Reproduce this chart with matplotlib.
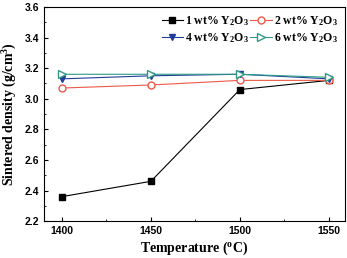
import matplotlib
matplotlib.use("Agg")
import matplotlib.pyplot as plt
from matplotlib.ticker import MultipleLocator

temps = [1400, 1450, 1500, 1550]
y1 = [2.36, 2.46, 3.06, 3.12]
y2 = [3.07, 3.09, 3.12, 3.12]
y4 = [3.13, 3.15, 3.16, 3.13]
y6 = [3.16, 3.16, 3.16, 3.14]

plt.rcParams['mathtext.fontset'] = 'custom'
plt.rcParams['mathtext.rm'] = 'Liberation Serif:bold'
plt.rcParams['mathtext.it'] = 'Liberation Serif:bold'

fig = plt.figure(figsize=(3.47, 2.58), dpi=100)
ax = fig.add_axes([0.127, 0.143, 0.867, 0.830])

l1, = ax.plot(temps, y1, color='black', marker='s', ms=5, lw=0.8, label='1 wt% Y$_2$O$_3$')
l2, = ax.plot(temps, y2, color='#ec5a48', marker='o', ms=5, mfc='white', lw=0.8, label='2 wt% Y$_2$O$_3$')
l4, = ax.plot(temps, y4, color='#1f3f9a', marker='v', ms=5, lw=0.8, label='4 wt% Y$_2$O$_3$')
l6, = ax.plot(temps, y6, color='#2f9a88', marker='>', ms=6, mfc='white', lw=0.8, label='6 wt% Y$_2$O$_3$')

ax.set_xlim(1390, 1559)
ax.set_ylim(2.2, 3.6)
ax.xaxis.set_major_locator(MultipleLocator(50))
ax.xaxis.set_minor_locator(MultipleLocator(25))
ax.yaxis.set_major_locator(MultipleLocator(0.2))
ax.yaxis.set_minor_locator(MultipleLocator(0.1))
ax.tick_params(which='both', direction='in', labelsize=7.5)
ax.tick_params(which='major', length=3)
ax.tick_params(which='minor', length=1.5)
for lab in ax.get_xticklabels() + ax.get_yticklabels():
    lab.set_fontweight('bold')
    lab.set_family('Liberation Sans')

serif = {'family': 'Liberation Serif', 'weight': 'bold', 'size': 10}
ax.set_xlabel('Temperature ($^\\mathregular{o}$C)', fontdict=serif, labelpad=2.5)
ax.set_ylabel('Sintered density (g/cm$^\\mathregular{3}$)', fontdict=serif, labelpad=4)

leg = ax.legend(handles=[l1, l4, l2, l6], loc='upper right', ncol=2, frameon=False,
                handlelength=1.8, columnspacing=0.1, handletextpad=0.2,
                borderaxespad=0.2, labelspacing=0.3,
                prop={'family': 'Liberation Serif', 'weight': 'bold', 'size': 8.5})

fig.savefig('out.png', dpi=100)
